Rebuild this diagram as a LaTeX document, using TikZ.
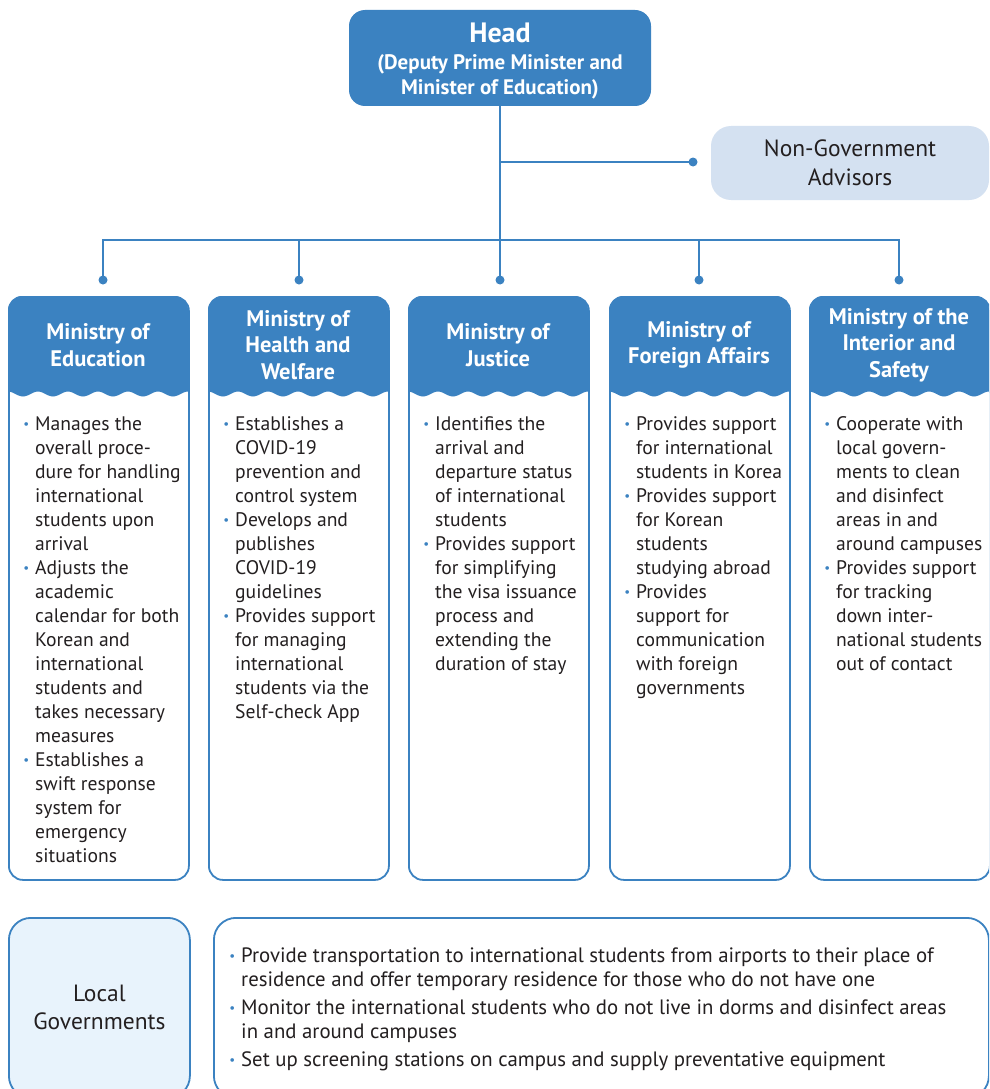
\documentclass[tikz,border=0pt]{standalone}
\usepackage{fontspec}
\setmainfont{PT Sans}
\definecolor{mblue}{HTML}{3B82C1}
\definecolor{ngfill}{HTML}{D4E1F1}
\definecolor{lgfill}{HTML}{E8F3FC}
\definecolor{txt}{HTML}{231F20}
\newcommand\bul{\llap{\textcolor{mblue}{\fontsize{13}{13}\selectfont\raisebox{1.5pt}{•}}\hspace{6pt}}}
\newcommand\bitem{\par\noindent\bul}
\tikzset{
  conn/.style={draw=mblue, line width=2.5pt},
  dotmark/.style={fill=mblue},
  mbox/.style={draw=mblue, line width=1.8pt, rounded corners=14pt, minimum width=180pt, minimum height=583pt, inner sep=0pt},
  headtxt/.style={text=white, align=center, font=\bfseries\fontsize{22.5}{26.5}\selectfont},
  bodytxt/.style={text=txt, inner sep=0pt, anchor=base west, font=\fontsize{19.6}{24}\selectfont},
  headbox/.style={fill=mblue, rounded corners=16pt, minimum width=302pt, minimum height=96pt},
  headboxtxt/.style={text=white, align=center, font=\bfseries\fontsize{21}{25}\selectfont},
  ngbox/.style={fill=ngfill, rounded corners=20pt, minimum width=278pt, minimum height=74pt, text=txt, align=center, font=\fontsize{23.5}{29}\selectfont},
  lgbox/.style={fill=lgfill, draw=mblue, line width=1.8pt, rounded corners=22pt, minimum width=181pt, minimum height=180pt, text=txt, align=center, font=\fontsize{23.5}{28}\selectfont},
  rbox/.style={draw=mblue, line width=1.8pt, rounded corners=22pt, minimum width=775pt, minimum height=180pt, inner sep=0pt}
}
\newcommand\ministry[4]{%
  \fill[mblue] (#2,-393) -- (#2,-310) arc[start angle=180,end angle=90,radius=14] -- ({#2+166},-296) arc[start angle=90,end angle=0,radius=14] -- ({#2+180},-393) -- plot[domain=180:0,samples=73] ({#2+\x},{-394+2.5*cos(\x*12)}) -- cycle;
  \node[mbox, anchor=north west] (#1) at (#2,-296) {};
  \node[headtxt] (#1h) at ({#2+90},-345) {#3};
  \node[bodytxt] (#1b) at ({#2+27},-430) {\parbox[t]{158pt}{\raggedright #4}};
}
\begin{document}
\begin{tikzpicture}[x=1pt,y=1pt]
\clip (0,0) rectangle (989,-1089);
\fill[white] (0,0) rectangle (989,-1089);
% head
\node[headbox] (head) at (500,-58) {};
\node[headboxtxt] (headt) at (500,-61) {{\fontsize{28}{30}\selectfont Head}\\[2pt](Deputy Prime Minister and\\Minister of Education)};
\node[ngbox] (ng) at (850,-163) {Non-Government\\Advisors};
% connectors
\coordinate (b) at (500,-162);
\coordinate (ngdot) at (693,-162);
\coordinate (h1) at (103,-240);
\coordinate (h2) at (299,-240);
\coordinate (h3) at (500,-240);
\coordinate (h4) at (699,-240);
\coordinate (h5) at (899,-240);
\coordinate (d1) at (103,-280);
\coordinate (d2) at (299,-280);
\coordinate (d3) at (500,-280);
\coordinate (d4) at (699,-280);
\coordinate (d5) at (899,-280);
\draw[conn] (head.south) -- (d3);
\draw[conn] (b) -- (ngdot);
\draw[conn] (d1) -- (h1) -- (h5) -- (d5);
\draw[conn] (h2) -- (d2);
\draw[conn] (h4) -- (d4);
\foreach \p in {ngdot,d1,d2,d3,d4,d5} \fill[dotmark] (\p) circle (4.5);
% ministries
\ministry{m1}{8}{Ministry of\\Education}{%
\bitem Manages the\newline overall proce-\newline dure for handling\newline international\newline students upon\newline arrival
\bitem Adjusts the\newline academic\newline calendar for both\newline Korean and\newline international\newline students and\newline takes necessary\newline measures
\bitem Establishes a\newline swift response\newline system for\newline emergency\newline situations}
\ministry{m2}{208}{Ministry of\\Health and\\Welfare}{%
\bitem Establishes a\newline COVID-19\newline prevention and\newline control system
\bitem Develops and\newline publishes\newline COVID-19\newline guidelines
\bitem Provides support\newline for managing\newline international\newline students via the\newline Self-check App}
\ministry{m3}{408}{Ministry of\\Justice}{%
\bitem Identifies the\newline arrival and\newline departure status\newline of international\newline students
\bitem Provides support\newline for simplifying\newline the visa issuance\newline process and\newline extending the\newline duration of stay}
\ministry{m4}{609}{Ministry of\\Foreign Affairs}{%
\bitem Provides support\newline for international\newline students in Korea
\bitem Provides support\newline for Korean\newline students\newline studying abroad
\bitem Provides\newline support for\newline communication\newline with foreign\newline governments}
\ministry{m5}{809}{Ministry of the\\Interior and\\Safety}{%
\bitem Cooperate with\newline local govern-\newline ments to clean\newline and disinfect\newline areas in and\newline around campuses
\bitem Provides support\newline for tracking\newline down inter-\newline national students\newline out of contact}
% local governments
\node[lgbox, anchor=north west] (lg) at (8,-917) {Local\\Governments};
\node[rbox, anchor=north west] (lr) at (213,-917) {};
\node[bodytxt, font=\fontsize{20.8}{24}\selectfont] (lrt) at (241,-962) {\parbox[t]{740pt}{\raggedright\parskip=4pt
\bitem Provide transportation to international students from airports to their place of\newline residence and offer temporary residence for those who do not have one
\bitem Monitor the international students who do not live in dorms and disinfect areas\newline in and around campuses
\bitem Set up screening stations on campus and supply preventative equipment}};
\end{tikzpicture}
\end{document}
